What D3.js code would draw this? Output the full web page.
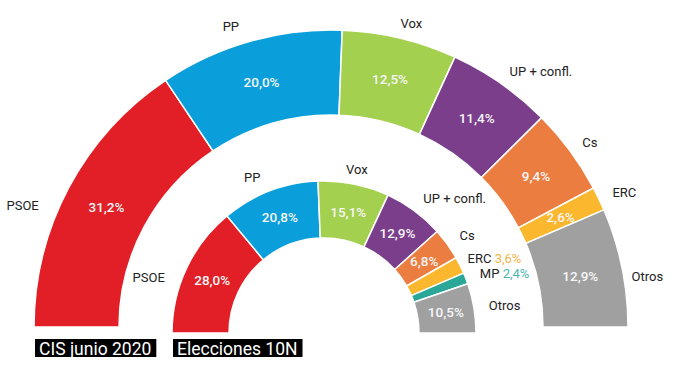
<!DOCTYPE html>
<html>
<head>
<meta charset="utf-8">
<script src="https://cdn.jsdelivr.net/npm/d3@7"></script>
<style>
  body { margin: 0; background: #fff; }
  svg text { font-family: Roboto, "Noto Sans", sans-serif; }
</style>
</head>
<body>
<svg id="chart"></svg>
<script>
const width = 680;
const height = 376;

// CIS junio 2020 (outer)
const cisParties = ['PSOE', 'PP', 'Vox', 'UP + confl.', 'Cs', 'ERC', 'Otros'];
const cisValues  = [31.2, 20.0, 12.5, 11.4, 9.4, 2.6, 12.9];

// Elecciones 10N (inner)
const e10Parties = ['PSOE', 'PP', 'Vox', 'UP + confl.', 'Cs', 'ERC', 'MP', 'Otros'];
const e10Values  = [28.0, 20.8, 15.1, 12.9, 6.8, 3.6, 2.4, 10.5];

const chartTitles = ['CIS junio 2020', 'Elecciones 10N'];

var color = d3.scaleOrdinal()
    .domain(['PSOE', 'PP', 'Vox', 'UP + confl.', 'Cs', 'ERC', 'MP', 'Otros'])
    .range(['#e21f26', '#0a9fda', '#a4d04f', '#7a3e8b', '#ec7d40', '#fbb72e', '#2aa798', '#a0a0a0']);
// text colour for the small parties whose value sits beside the name
var outsideColor = { 'ERC': '#f2b443', 'MP': '#49b8ae' };

const fmt = v => d3.format('.1f')(v).replace('.', ',') + '%';

const svg = d3.select('#chart')
    .attr('width', width)
    .attr('height', height);

function drawHalf(parties, values, opt) {
    var data = parties.map((p, i) => ({ party: p, value: values[i] }));
    var pie = d3.pie()
        .sort(null)
        .value(d => d.value)
        .startAngle(-Math.PI / 2)
        .endAngle(Math.PI / 2);
    var arcs = pie(data);
    var arc = d3.arc().innerRadius(opt.r).outerRadius(opt.R);
    var labelArc = d3.arc().innerRadius(opt.R + 15).outerRadius(opt.R + 15);

    var g = svg.append('g').attr('transform', `translate(${opt.cx},${opt.cy})`);

    g.selectAll('path')
        .data(arcs)
        .enter()
        .append('path')
        .attr('d', arc)
        .attr('fill', d => color(d.data.party))
        .attr('stroke', 'white')
        .attr('stroke-width', 1.5);

    // values inside the ring
    g.selectAll('text.val')
        .data(arcs.filter(d => !opt.outside.includes(d.data.party)))
        .enter()
        .append('text')
        .attr('class', 'val')
        .attr('transform', d => `translate(${arc.centroid(d)})`)
        .attr('text-anchor', 'middle')
        .attr('dy', '0.35em')
        .attr('fill', '#f6f6f6')
        .attr('font-size', 13.5)
        .attr('font-weight', 500)
        .text(d => fmt(d.data.value));

    // party names round the ring
    var names = g.selectAll('text.name')
        .data(arcs)
        .enter()
        .append('text')
        .attr('class', 'name')
        .attr('transform', d => {
            var c = labelArc.centroid(d);
            var n = opt.nudge[d.data.party] || [0, 0];
            return `translate(${c[0] + n[0]},${c[1] + n[1]})`;
        })
        .attr('text-anchor', d => {
            var s = Math.sin((d.startAngle + d.endAngle) / 2);
            return s < -0.4 ? 'end' : (s > 0.4 ? 'start' : 'middle');
        })
        .attr('dy', '0.35em')
        .attr('fill', '#222')
        .attr('font-size', 13);
    names.append('tspan').text(d => d.data.party);
    names.filter(d => opt.outside.includes(d.data.party))
        .append('tspan')
        .attr('fill', d => outsideColor[d.data.party])
        .text(d => ' ' + fmt(d.data.value));

    // black title tag under the left foot
    var tag = svg.append('g')
        .attr('transform', `translate(${opt.cx - opt.R + 1},${opt.cy + opt.tagGap})`);
    var rect = tag.append('rect').attr('height', 18).attr('fill', '#000');
    var t = tag.append('text')
        .attr('x', 4)
        .attr('y', 15.5)
        .attr('fill', '#fff')
        .attr('font-size', 17.5)
        .text(opt.title);
    rect.attr('width', t.node().getComputedTextLength() + 9);
}

drawHalf(cisParties, cisValues, {
    cx: 331, cy: 327, R: 297, r: 212,
    outside: [],
    nudge: { 'PSOE': [-17, 25], 'PP': [-15, 0], 'Vox': [8, 0], 'Otros': [-5, 12] },
    title: chartTitles[0], tagGap: 12
});

drawHalf(e10Parties, e10Values, {
    cx: 324, cy: 333, R: 152, r: 95,
    outside: ['ERC', 'MP'],
    nudge: { 'PSOE': [-8, 15], 'PP': [-12, 0], 'ERC': [-6, 0] },
    title: chartTitles[1], tagGap: 6
});
</script>
</body>
</html>
